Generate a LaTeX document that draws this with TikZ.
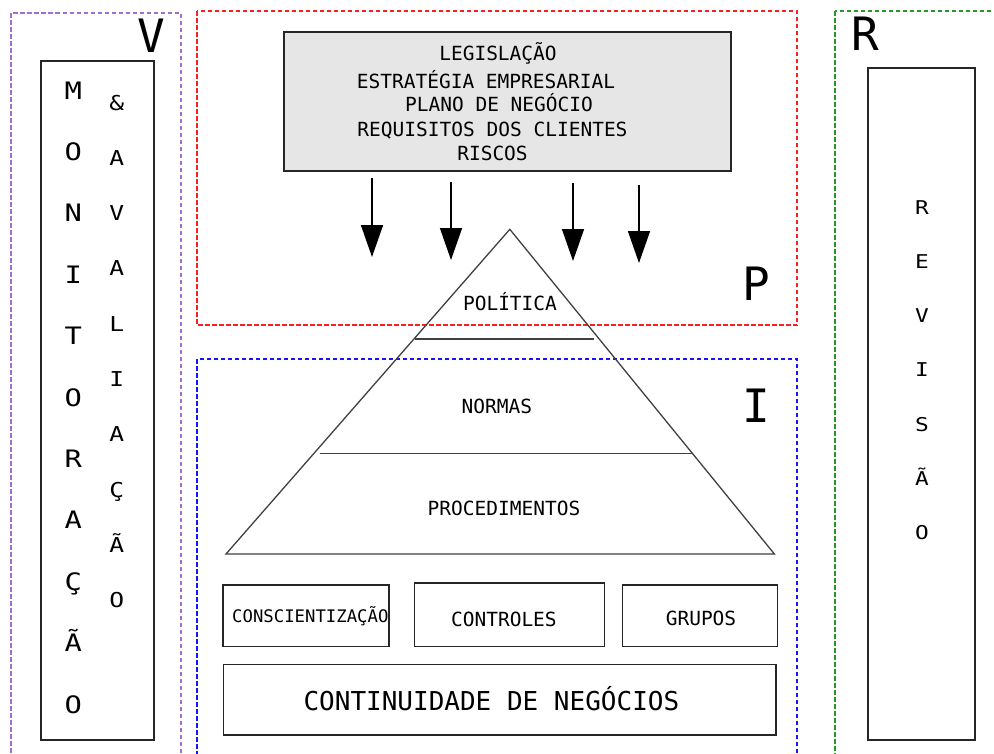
\documentclass[tikz,border=0pt]{standalone}
\usepackage{fontspec}
\newfontfamily\dmono{DejaVu Sans Mono}
\newfontfamily\dmonow[FakeStretch=1.2]{DejaVu Sans Mono}
\usetikzlibrary{arrows.meta}
\definecolor{vcol}{RGB}{160,110,215}
\definecolor{pcol}{RGB}{255,30,30}
\definecolor{bluecol}{RGB}{20,20,255}
\definecolor{rcol}{RGB}{40,150,40}
\definecolor{boxfill}{RGB}{230,230,230}
\begin{document}
\begin{tikzpicture}[x=1pt,y=-1pt,
  frame/.style={line width=1.8pt, dash pattern=on 4.5pt off 2.5pt},
  box/.style={draw=black!85, line width=1.3pt, inner sep=0pt},
  txt/.style={font=\dmono\fontsize{19.5}{22}\selectfont, inner sep=0pt, anchor=base},
  big/.style={font=\dmono\fontsize{46}{50}\selectfont, inner sep=0pt, anchor=base},
  vl/.style={font=\dmonow\fontsize{24}{26}\selectfont, inner sep=0pt, anchor=base},
  al/.style={font=\dmonow\fontsize{20.5}{22}\selectfont, inner sep=0pt, anchor=base},
  rl/.style={font=\dmonow\fontsize{19}{21}\selectfont, inner sep=0pt, anchor=base},
  pyr/.style={draw=black!75, line width=1.3pt},
  arr/.style={-{Triangle[width=22pt,length=32pt]}, line width=1.5pt}
]
\useasboundingbox (0,0) rectangle (994,753);
\clip (0,0) rectangle (994,753);

% dashed frames
\draw[frame, draw=vcol] (11,13) rectangle (181,781);
\draw[frame, draw=pcol] (197,11) rectangle (797,325);
\draw[frame, draw=bluecol] (197,359) rectangle (797,781);
\draw[frame, draw=rcol] (835,11) rectangle (1011,781);

% big letters
\node[big] (lv) at (151.7,52.7) {V};
\node[big] (lp) at (756,300) {P};
\node[big] (li) at (756.7,422) {I};
\node[big] (lr) at (865.6,50) {R};

% left column
\node[box, minimum width=113, minimum height=679] (mon) at (97.5,400.5) {};
\foreach \c [count=\i] in {M,O,N,I,T,O,R,A,Ç,Ã,O}
  \node[vl] (m\i) at (73.3,{99+61.4*(\i-1)}) {\c};
\foreach \c [count=\i] in {\&,A,V,A,L,I,A,Ç,Ã,O}
  \node[al] (a\i) at (116.7,{110+55.3*(\i-1)}) {\c};

% right column
\node[box, minimum width=107, minimum height=672] (rev) at (921.5,404) {};
\foreach \c [count=\i] in {R,E,V,I,S,Ã,O}
  \node[rl] (r\i) at (922,{214+54.3*(\i-1)}) {\c};

% top grey box
\node[box, fill=boxfill, minimum width=447, minimum height=139] (top) at (507.5,101.5) {};
\node[txt] (t1) at (498,60) {LEGISLAÇÃO};
\node[txt] (t2) at (486,88) {ESTRATÉGIA EMPRESARIAL};
\node[txt] (t3) at (499,111) {PLANO DE NEGÓCIO};
\node[txt] (t4) at (492.5,136) {REQUISITOS DOS CLIENTES};
\node[txt] (t5) at (492.5,160) {RISCOS};

% arrows
\coordinate (s1) at (372,178); \coordinate (e1) at (372,257);
\coordinate (s2) at (451,182); \coordinate (e2) at (451,260);
\coordinate (s3) at (573,183); \coordinate (e3) at (573,261);
\coordinate (s4) at (639,185); \coordinate (e4) at (639,263);
\draw[arr] (s1) -- (e1);
\draw[arr] (s2) -- (e2);
\draw[arr] (s3) -- (e3);
\draw[arr] (s4) -- (e4);

% pyramid
\coordinate (apex) at (509.8,229.3);
\coordinate (bl) at (226,554);
\coordinate (br) at (774.4,554);
\draw[pyr, line join=miter] (apex) -- (bl) -- (br) -- cycle;
\coordinate (l1a) at (414.7,339); \coordinate (l1b) at (594,339);
\coordinate (l2a) at (319.6,453.3); \coordinate (l2b) at (692,453.3);
\draw[pyr] (l1a) -- (l1b);
\draw[pyr] (l2a) -- (l2b);
\node[txt] (pol) at (510,310.7) {POLÍTICA};
\node[txt] (nor) at (496.8,413) {NORMAS};
\node[txt] (pro) at (504,515) {PROCEDIMENTOS};

% bottom boxes
\node[font=\dmono\fontsize{17.3}{20}\selectfont, inner sep=0pt, anchor=base west] (consc) at (232,622) {CONSCIENTIZAÇÃO};
\node[box, minimum width=166, minimum height=61.7] (bcon) at (306,615.85) {};
\node[box, minimum width=189.8, minimum height=63.7] (bctr) at (509.6,614.85) {};
\node[txt] (ctr) at (503.9,626) {CONTROLES};
\node[box, minimum width=155.3, minimum height=61.7] (bgru) at (700.15,615.85) {};
\node[txt] (gru) at (701,625) {GRUPOS};
\node[box, minimum width=552.2, minimum height=70.7] (bcont) at (499.9,699.65) {};
\node[font=\dmono\fontsize{26}{30}\selectfont, inner sep=0pt, anchor=base] (cont) at (491.4,710) {CONTINUIDADE DE NEGÓCIOS};
\end{tikzpicture}
\end{document}
